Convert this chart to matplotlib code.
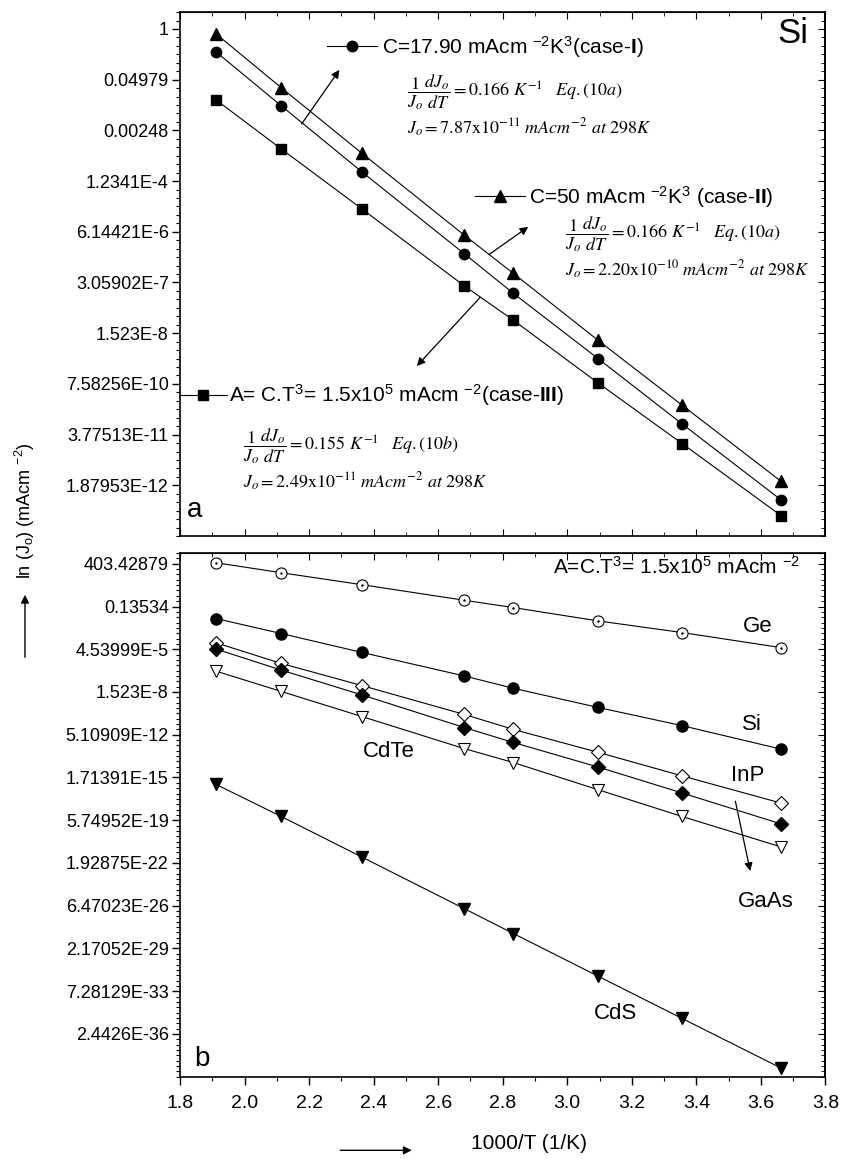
import numpy as np
import matplotlib
matplotlib.use('Agg')
import matplotlib.pyplot as plt
from matplotlib.lines import Line2D

plt.rcParams['font.family'] = ['Liberation Sans', 'DejaVu Sans']
plt.rcParams['mathtext.fontset'] = 'custom'
plt.rcParams['mathtext.rm'] = 'Liberation Sans'
plt.rcParams['mathtext.it'] = 'Liberation Sans:italic'
plt.rcParams['mathtext.bf'] = 'Liberation Sans:bold'

# -- data: 1000/T and ln(Jo) --
inv_T = [1.912, 2.114, 2.364, 2.681, 2.833, 3.096, 3.356, 3.663]

# panel a : Si, three cases
si_case1 = [-1.36, -4.55, -8.46, -13.3, -15.64, -19.51, -23.37, -27.87]
si_case2 = [-0.29, -3.48, -7.36, -12.2, -14.46, -18.43, -22.26, -26.77]
si_case3 = [-4.2, -7.1, -10.65, -15.2, -17.23, -20.95, -24.53, -28.8]

# panel b : A = C.T^3 = 1.5e5 mAcm-2
ge   = [6.19, 4.32, 2.08, -0.83, -2.2, -4.7, -6.87, -9.7]
si   = [-4.26, -7.06, -10.6, -15.0, -17.3, -20.9, -24.3, -28.7]
inp  = [-8.8, -12.66, -16.8, -22.2, -25.0, -29.3, -33.7, -38.8]
gaas = [-9.97, -13.9, -18.55, -24.65, -27.45, -32.05, -36.9, -42.7]
cdte = [-14.1, -17.9, -22.6, -28.6, -31.2, -36.3, -41.3, -47.0]
cds  = [-35.3, -41.3, -48.9, -58.55, -63.2, -71.2, -79.1, -88.4]

# y ticks (ln scale), labels as printed (value of e^k)
ticks_a = [0, -3, -6, -9, -12, -15, -18, -21, -24, -27]
labels_a = ['1', '0.04979', '0.00248', '1.2341E-4', '6.14421E-6', '3.05902E-7',
            '1.523E-8', '7.58256E-10', '3.77513E-11', '1.87953E-12']
ticks_b = [6, -2, -10, -18, -26, -34, -42, -50, -58, -66, -74, -82]
labels_b = ['403.42879', '0.13534', '4.53999E-5', '1.523E-8', '5.10909E-12',
            '1.71391E-15', '5.74952E-19', '1.92875E-22', '6.47023E-26',
            '2.17052E-29', '7.28129E-33', '2.4426E-36']
xticks = [1.8, 2.0, 2.2, 2.4, 2.6, 2.8, 3.0, 3.2, 3.4, 3.6, 3.8]

LW = 0.8
K = 'black'

fig = plt.figure(figsize=(8.41, 11.59), dpi=100)
ax1 = fig.add_axes([0.2140, 0.5375, 0.7675, 0.4521])
ax2 = fig.add_axes([0.2140, 0.0710, 0.7675, 0.4518])


def style_axes(ax, yt, yl, ylim, minor_step, bottom_labels):
    ax.set_xlim(1.8, 3.8)
    ax.set_ylim(*ylim)
    for s in ax.spines.values():
        s.set_linewidth(1.2)
    ax.set_yticks(yt)
    ax.set_yticklabels(yl)
    ax.set_yticks(np.arange(ylim[0] // 1, ylim[1] + 1, minor_step), minor=True)
    ax.set_xticks(xticks)
    ax.set_xticks(np.arange(1.8, 3.81, 0.1), minor=True)
    ax.tick_params(axis='y', which='major', direction='out', length=6, width=1,
                   labelsize=13, pad=2)
    ax.tick_params(axis='y', which='minor', direction='out', length=3, width=0.8)
    # right side: inward ticks, no labels
    sec = ax.secondary_yaxis('right')
    sec.set_yticks(yt)
    sec.set_yticklabels([])
    sec.set_yticks(np.arange(ylim[0] // 1, ylim[1] + 1, minor_step), minor=True)
    sec.tick_params(which='major', direction='in', length=5, width=0.8)
    sec.tick_params(which='minor', direction='in', length=3, width=0.6)
    sec.spines['right'].set_linewidth(1.2)
    top = ax.secondary_xaxis('top')
    top.set_xticks(xticks)
    top.set_xticklabels([])
    top.set_xticks(np.arange(1.8, 3.81, 0.1), minor=True)
    top.tick_params(which='major', direction='in', length=5, width=0.8)
    top.tick_params(which='minor', direction='in', length=3, width=0.6)
    if bottom_labels:
        ax.tick_params(axis='x', which='major', direction='out', length=6,
                       width=1, labelsize=14, pad=7)
        ax.tick_params(axis='x', which='minor', direction='out', length=3,
                       width=0.8)
        ax.set_xticklabels([f'{v:.1f}' for v in xticks])
    else:
        ax.tick_params(axis='x', which='major', direction='in', length=5,
                       width=0.8, labelbottom=False)
        ax.tick_params(axis='x', which='minor', direction='in', length=3,
                       width=0.6)


# -- panel a --
style_axes(ax1, ticks_a, labels_a, (-29.96, 0.38), 0.5, False)
ax1.plot(inv_T, si_case2, color=K, lw=LW, marker='^', ms=8.5)
ax1.plot(inv_T, si_case1, color=K, lw=LW, marker='o', ms=7.5)
ax1.plot(inv_T, si_case3, color=K, lw=LW, marker='s', ms=6.5)

leg_kw = dict(loc='center left', frameon=False, borderpad=0, borderaxespad=0,
              fontsize=15, numpoints=1)
h1 = Line2D([], [], color=K, lw=LW, marker='o', ms=7.5)
h2 = Line2D([], [], color=K, lw=LW, marker='^', ms=8.5)
h3 = Line2D([], [], color=K, lw=LW, marker='s', ms=6.5)
l1 = ax1.legend([h1], [r'C=17.90 mAcm $^{-2}$K$^{3}$(case-$\mathbf{I}$)'],
                bbox_to_anchor=(0.2277, 0.934), handlelength=2.4,
                handletextpad=0.25, **leg_kw)
ax1.add_artist(l1)
l2 = ax1.legend([h2], [r'C=50 mAcm $^{-2}$K$^{3}$ (case-$\mathbf{II}$)'],
                bbox_to_anchor=(0.457, 0.6475), handlelength=2.4,
                handletextpad=0.2, **leg_kw)
ax1.add_artist(l2)
ax1.legend([h3], [r'A= C.T$^{3}$= 1.5x10$^{5}$ mAcm $^{-2}$(case-$\mathbf{III}$)'],
           bbox_to_anchor=(0.0, 0.269), handlelength=2.25,
           handletextpad=0.08, **leg_kw)

eq_kw = dict(transform=ax1.transAxes, fontsize=13, math_fontfamily='stix',
             ha='left', va='center')
frac = r'$\dfrac{1}{J_o}\dfrac{dJ_o}{dT}=%s\ K^{-1}\quad Eq.(10%s)$'
jo = r'$J_o=%s\mathrm{x}10^{%s}\ mAcm^{-2}\ at\ 298K$'
ax1.text(0.351, 0.846, frac % ('0.166', 'a'), **eq_kw)
ax1.text(0.351, 0.779, jo % ('7.87', '-11'), **eq_kw)
ax1.text(0.596, 0.576, frac % ('0.166', 'a'), **eq_kw)
ax1.text(0.596, 0.509, jo % ('2.20', '-10'), **eq_kw)
ax1.text(0.098, 0.172, frac % ('0.155', 'b'), **eq_kw)
ax1.text(0.098, 0.1036, jo % ('2.49', '-11'), **eq_kw)

arr = dict(arrowstyle='-|>', color=K, lw=0.9, mutation_scale=12,
           shrinkA=0, shrinkB=0)
ax1.annotate('', xy=(2.294, -2.42), xytext=(2.177, -5.62), arrowprops=arr)
ax1.annotate('', xy=(2.879, -11.71), xytext=(2.758, -13.34), arrowprops=arr)
ax1.annotate('', xy=(2.534, -19.94), xytext=(2.730, -15.88), arrowprops=arr)

ax1.text(0.95, 0.96, 'Si', transform=ax1.transAxes, fontsize=25,
         ha='center', va='center')
ax1.text(0.023, 0.05, 'a', transform=ax1.transAxes, fontsize=20,
         ha='center', va='center')

# -- panel b --
style_axes(ax2, ticks_b, labels_b, (-90.0, 7.62), 1, True)
ax2.plot(inv_T, ge, color=K, lw=LW, marker='o', ms=8, mfc='white', mew=0.8)
ax2.plot(inv_T, ge, ls='none', marker='.', ms=1.5, color=K)
ax2.plot(inv_T, si, color=K, lw=LW, marker='o', ms=8)
ax2.plot(inv_T, inp, color=K, lw=LW, marker='D', ms=7, mfc='white', mew=0.8)
ax2.plot(inv_T, gaas, color=K, lw=LW, marker='D', ms=7)
ax2.plot(inv_T, cdte, color=K, lw=LW, marker='v', ms=8.5, mfc='white', mew=0.8)
ax2.plot(inv_T, cds, color=K, lw=LW, marker='v', ms=8.5)

ax2.text(0.9605, 0.974, r'A=C.T$^{3}$= 1.5x10$^{5}$ mAcm $^{-2}$',
         transform=ax2.transAxes, fontsize=15, ha='right', va='center')
lab_kw = dict(transform=ax2.transAxes, fontsize=16, ha='center', va='center')
ax2.text(0.895, 0.859, 'Ge', **lab_kw)
ax2.text(0.886, 0.673, 'Si', **lab_kw)
ax2.text(0.880, 0.576, 'InP', **lab_kw)
ax2.text(0.323, 0.6206, 'CdTe', **lab_kw)
ax2.text(0.908, 0.334, 'GaAs', **lab_kw)
ax2.text(0.675, 0.1216, 'CdS', **lab_kw)
ax2.text(0.034, 0.034, 'b', transform=ax2.transAxes, fontsize=20,
         ha='center', va='center')
ax2.annotate('', xy=(3.567, -51.5), xytext=(3.521, -38.46), arrowprops=arr)

# axis titles with their arrows
fig.text(0.0297, 0.559, r'ln (J$_{\mathrm{o}}$) (mAcm $^{-2}$)', rotation=90,
         fontsize=13, ha='center', va='center')
fig.add_artist(matplotlib.patches.FancyArrowPatch(
    (0.0297, 0.4305), (0.0297, 0.4892), transform=fig.transFigure,
    arrowstyle='-|>', mutation_scale=12, color=K, lw=1))
fig.text(0.629, 0.0138, '1000/T (1/K)', fontsize=15, ha='center', va='center')
fig.add_artist(matplotlib.patches.FancyArrowPatch(
    (0.4013, 0.0075), (0.4929, 0.0075), transform=fig.transFigure,
    arrowstyle='-|>', mutation_scale=12, color=K, lw=1))

fig.savefig('out.png', dpi=100)
